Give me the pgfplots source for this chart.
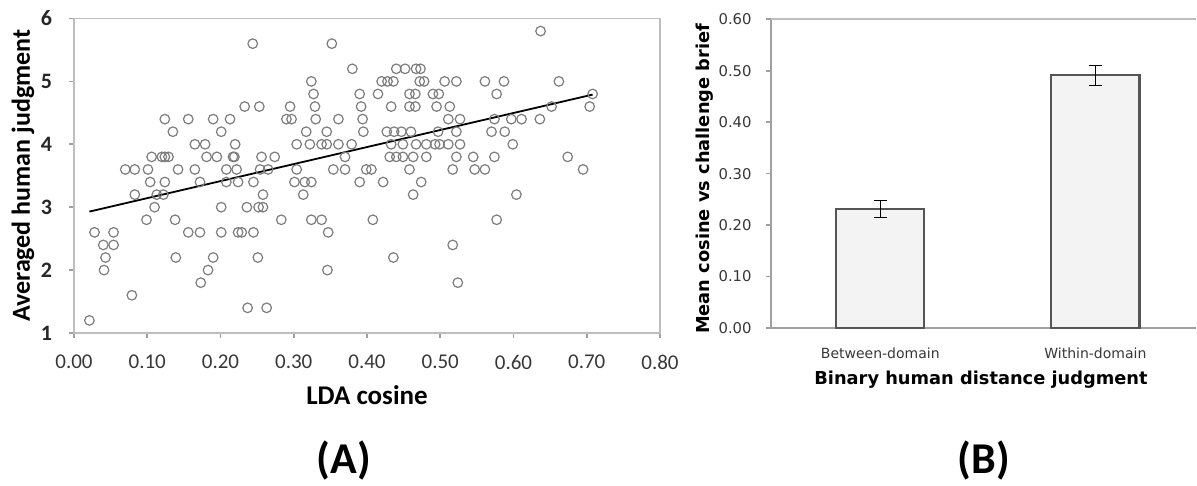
\documentclass[border=0pt]{standalone}
\usepackage{fontspec}
\setmainfont{Carlito}
\newfontfamily\dv{DejaVu Sans}
\usepackage{pgfplots}
\usepackage{pgfplotstable}
\pgfplotsset{compat=1.18}
\definecolor{framegray}{RGB}{190,190,190}
\definecolor{axgray}{RGB}{160,160,160}
\definecolor{markgray}{RGB}{125,125,125}
\definecolor{barfill}{RGB}{243,243,243}
\definecolor{baredge}{RGB}{85,85,85}
\definecolor{ticklab}{RGB}{55,55,55}

\pgfplotstableread{
x y
0.637 5.8
0.244 5.6
0.352 5.6
0.380 5.2
0.440 5.2
0.452 5.2
0.467 5.2
0.473 5.2
0.324 5.0
0.420 5.0
0.428 5.0
0.436 5.0
0.472 5.0
0.478 5.0
0.506 5.0
0.522 5.0
0.561 5.0
0.587 5.0
0.662 5.0
0.327 4.8
0.390 4.8
0.415 4.8
0.458 4.8
0.466 4.8
0.490 4.8
0.498 4.8
0.577 4.8
0.708 4.8
0.233 4.6
0.253 4.6
0.295 4.6
0.329 4.6
0.392 4.6
0.433 4.6
0.458 4.6
0.466 4.6
0.495 4.6
0.513 4.6
0.652 4.6
0.704 4.6
0.124 4.4
0.156 4.4
0.190 4.4
0.213 4.4
0.290 4.4
0.297 4.4
0.330 4.4
0.361 4.4
0.394 4.4
0.511 4.4
0.527 4.4
0.574 4.4
0.597 4.4
0.611 4.4
0.636 4.4
0.135 4.2
0.201 4.2
0.317 4.2
0.345 4.2
0.395 4.2
0.427 4.2
0.437 4.2
0.447 4.2
0.460 4.2
0.497 4.2
0.522 4.2
0.570 4.2
0.588 4.2
0.165 4.0
0.179 4.0
0.220 4.0
0.304 4.0
0.322 4.0
0.338 4.0
0.345 4.0
0.361 4.0
0.379 4.0
0.433 4.0
0.449 4.0
0.467 4.0
0.481 4.0
0.493 4.0
0.499 4.0
0.511 4.0
0.527 4.0
0.599 4.0
0.106 3.8
0.120 3.8
0.124 3.8
0.129 3.8
0.181 3.8
0.195 3.8
0.217 3.8
0.219 3.8
0.256 3.8
0.274 3.8
0.370 3.8
0.431 3.8
0.440 3.8
0.449 3.8
0.463 3.8
0.481 3.8
0.522 3.8
0.545 3.8
0.574 3.8
0.674 3.8
0.070 3.6
0.083 3.6
0.101 3.6
0.142 3.6
0.165 3.6
0.208 3.6
0.222 3.6
0.254 3.6
0.265 3.6
0.304 3.6
0.354 3.6
0.370 3.6
0.399 3.6
0.406 3.6
0.458 3.6
0.517 3.6
0.547 3.6
0.561 3.6
0.695 3.6
0.104 3.4
0.124 3.4
0.172 3.4
0.208 3.4
0.224 3.4
0.245 3.4
0.301 3.4
0.315 3.4
0.324 3.4
0.390 3.4
0.422 3.4
0.474 3.4
0.083 3.2
0.113 3.2
0.122 3.2
0.258 3.2
0.313 3.2
0.463 3.2
0.604 3.2
0.110 3.0
0.201 3.0
0.236 3.0
0.252 3.0
0.258 3.0
0.099 2.8
0.138 2.8
0.283 2.8
0.324 2.8
0.338 2.8
0.408 2.8
0.577 2.8
0.028 2.6
0.054 2.6
0.156 2.6
0.172 2.6
0.201 2.6
0.224 2.6
0.229 2.6
0.245 2.6
0.347 2.6
0.040 2.4
0.054 2.4
0.517 2.4
0.043 2.2
0.139 2.2
0.190 2.2
0.251 2.2
0.436 2.2
0.041 2.0
0.183 2.0
0.346 2.0
0.173 1.8
0.524 1.8
0.079 1.6
0.237 1.4
0.263 1.4
0.021 1.2
}\scatterdata

\pgfplotstableread{
x y err
0 0.231 0.017
1 0.491 0.019
}\bardata

\begin{document}
\begin{tikzpicture}
\useasboundingbox (0,0) rectangle (598.5pt,243pt);

% ---------- (A) scatter ----------
\begin{axis}[
  at={(37pt,76.5pt)}, anchor=south west,
  scale only axis, width=293pt, height=157.25pt,
  xmin=0, xmax=0.8, ymin=1, ymax=6,
  xtick={0,0.1,0.2,0.3,0.4,0.5,0.6,0.7,0.8},
  ytick={1,2,3,4,5,6},
  axis line style={framegray, line width=0.9pt},
  tick style={axgray, line width=0.8pt},
  tick align=outside, major tick length=2.5pt, tick pos=left,
  /pgf/number format/assume math mode=true,
  x tick label style={/pgf/number format/fixed, /pgf/number format/fixed zerofill,
     /pgf/number format/precision=2, font=\fontsize{10.5}{12}\selectfont, text=ticklab, yshift=-5pt},
  y tick label style={font=\bfseries\fontsize{11}{12}\selectfont, text=black!85, xshift=-5pt},
  xlabel={LDA cosine},
  ylabel={Averaged human judgment},
  xlabel style={at={(axis description cs:0.5,0)}, anchor=center, yshift=-31pt,
     font=\bfseries\fontsize{13.5}{15}\selectfont},
  ylabel style={at={(axis description cs:-0.087,0.5)}, anchor=center,
     font=\bfseries\fontsize{13}{15}\selectfont},
  clip=false,
]
\addplot[only marks, mark=o, mark size=2.4pt, mark options={markgray, line width=0.6pt}]
  table[x=x, y=y] {\scatterdata};
\addplot[black, line width=0.9pt] coordinates {(0.021,2.93) (0.708,4.79)};
\end{axis}

% ---------- (B) bars ----------
\begin{axis}[
  at={(385.3pt,79pt)}, anchor=south west,
  scale only axis, width=212.7pt, height=154.35pt,
  xmin=-0.51, xmax=1.468, ymin=0, ymax=0.6,
  axis x line*=bottom, axis y line*=left,
  axis line style={axgray, line width=0.9pt},
  xtick={0,1}, xticklabels={Between-domain, Within-domain},
  extra x ticks={0.5}, extra x tick labels={},
  extra x tick style={major tick length=3pt, tick style={axgray, line width=0.8pt}},
  ytick={0,0.1,0.2,0.3,0.4,0.5,0.6},
  tick align=outside,
  xtick style={draw=none},
  ytick style={axgray, line width=0.8pt}, major tick length=2.5pt,
  /pgf/number format/assume math mode=true,
  y tick label style={/pgf/number format/fixed, /pgf/number format/fixed zerofill,
     /pgf/number format/precision=2, font=\dv\fontsize{7.4}{9}\selectfont, text=ticklab, xshift=-3.5pt},
  x tick label style={font=\dv\fontsize{7}{9}\selectfont, text=ticklab, yshift=-4pt},
  xlabel={Binary human distance judgment},
  ylabel={Mean cosine vs challenge brief},
  xlabel style={at={(axis description cs:0.4945,0)}, anchor=center, yshift=-26pt,
     font=\dv\bfseries\fontsize{8.9}{10}\selectfont},
  ylabel style={at={(axis description cs:-0.1545,0.483)}, anchor=center,
     font=\dv\bfseries\fontsize{8.9}{10}\selectfont},
  clip=false,
]
\draw[framegray, line width=0.9pt] (rel axis cs:0,1) -- (rel axis cs:1,1);
\addplot[ybar, bar width=0.41, fill=barfill, draw=baredge, line width=1.1pt,
  error bars/.cd, y dir=both, y explicit,
  error bar style={black, line width=0.6pt},
  error mark options={rotate=90, black, mark size=3.2pt, line width=0.6pt}]
  table[x=x, y=y, y error=err] {\bardata};
\end{axis}

\node[font=\bfseries\fontsize{22}{24}\selectfont] at (172pt,12.5pt) {(A)};
\node[font=\bfseries\fontsize{22}{24}\selectfont] at (492pt,12.5pt) {(B)};
\end{tikzpicture}
\end{document}
